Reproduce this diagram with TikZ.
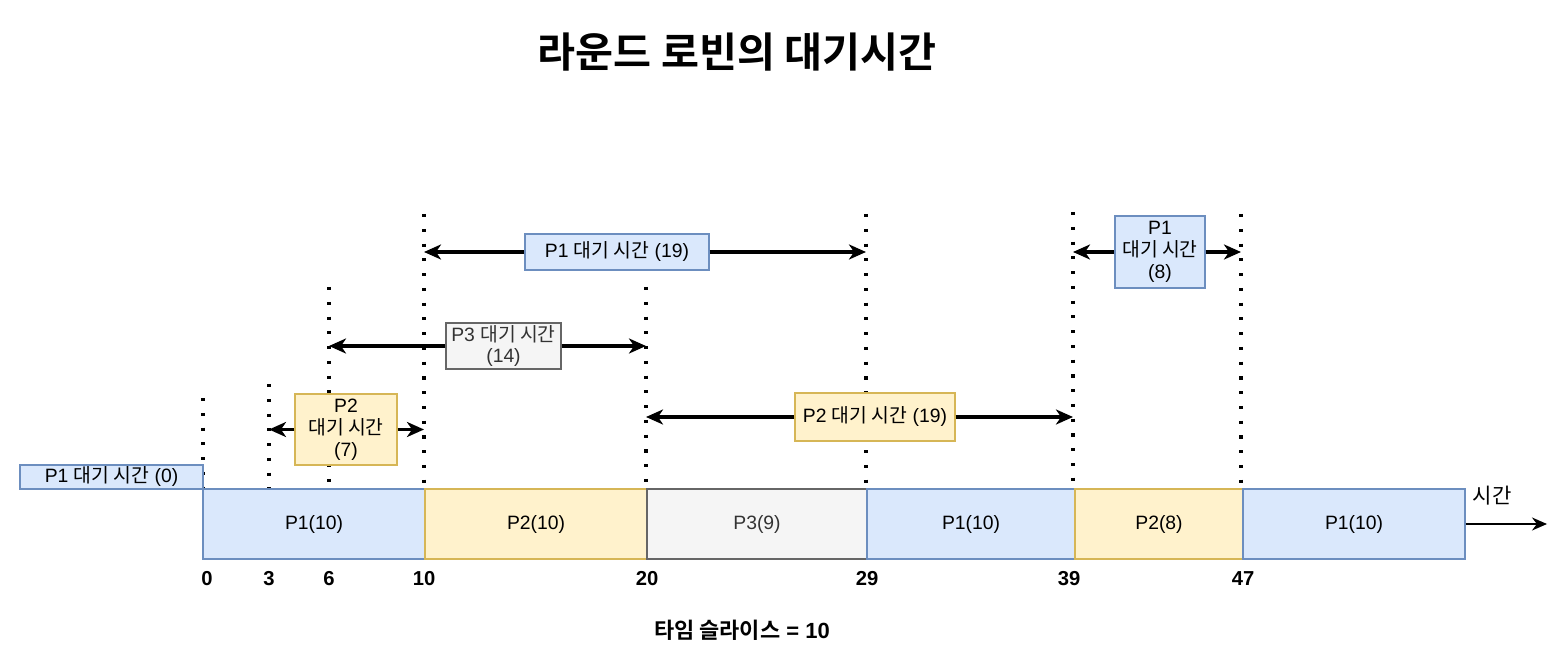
\documentclass[tikz,border=0pt]{standalone}
\usepackage{fontspec}
\setmainfont{Liberation Sans}
\newfontfamily\kr{Noto Sans CJK KR}[BoldFont={Noto Sans CJK KR Bold}]
\usetikzlibrary{arrows.meta,positioning}
\definecolor{blueFill}{HTML}{DAE8FC}
\definecolor{blueLine}{HTML}{6C8EBF}
\definecolor{yellowFill}{HTML}{FFF2CC}
\definecolor{yellowLine}{HTML}{D6B656}
\definecolor{grayFill}{HTML}{F5F5F5}
\definecolor{grayLine}{HTML}{666666}
\definecolor{grayText}{HTML}{333333}

\begin{document}
\begin{tikzpicture}[
  x=0.02cm,y=-0.02cm,
  box/.style={rectangle,inner sep=0pt,line width=0.8pt,align=center,font=\fontsize{11}{12.5}\selectfont},
  pone/.style={box,draw=blueLine,fill=blueFill},
  ptwo/.style={box,draw=yellowLine,fill=yellowFill},
  pthree/.style={box,draw=grayLine,fill=grayFill,text=grayText},
  seg/.style={minimum height=14mm},
  tick/.style={font=\fontsize{11.5}{13}\selectfont\bfseries},
  guide/.style={line width=1.8pt,dash pattern=on 1.8pt off 6.6pt},
  arrow/.style={-{Stealth[length=3.4mm,width=3mm,inset=1mm]},line width=1.9pt},
  timearrow/.style={-{Stealth[length=3mm,width=2.6mm]},line width=1.1pt}
]
\useasboundingbox (0,0) rectangle (1554,648);
\node[font=\kr\bfseries\fontsize{23.5}{28}\selectfont] (title) at (737,52) {라운드 로빈의 대기시간};

\coordinate (g0) at (203,398);
\coordinate (g3) at (269,384);
\coordinate (g6) at (329,287);
\coordinate (g10) at (424,214);
\coordinate (g20) at (646,287);
\coordinate (g29) at (866,214);
\coordinate (g39) at (1073,212);
\coordinate (g47) at (1241,214);
\foreach \g in {g0,g3,g6,g10,g20,g29,g39,g47}
  \draw[guide] (\g) -- (\g |- 0,489);

\node[pone,seg,minimum width=44.4mm] (s1) at (314,524) {P1(10)};
\node[ptwo,seg,minimum width=44.4mm] (s2) at (536,524) {P2(10)};
\node[pthree,seg,minimum width=44mm] (s3) at (757,524) {P3(9)};
\node[pone,seg,minimum width=41.6mm] (s4) at (971,524) {P1(10)};
\node[ptwo,seg,minimum width=33.6mm] (s5) at (1159,524) {P2(8)};
\node[pone,seg,minimum width=44.4mm] (s6) at (1354,524) {P1(10)};
\coordinate (tend) at (1547,524);
\draw[timearrow] (s6.east) -- (tend);
\node[font=\kr\fontsize{12}{14}\selectfont] (tlabel) at (1492,496) {시간};

\node[tick] (l0) at (207,579) {0};
\node[tick] (l3) at (269,579) {3};
\node[tick] (l6) at (329,579) {6};
\node[tick] (l10) at (424,579) {10};
\node[tick] (l20) at (647,579) {20};
\node[tick] (l29) at (867,579) {29};
\node[tick] (l39) at (1069,579) {39};
\node[tick] (l47) at (1243,579) {47};
\node[tick,font=\fontsize{12.5}{14}\selectfont\bfseries] (slice) at (742,630) {{\kr 타임 슬라이스} = 10};

\node[pone,minimum width=36.6mm,minimum height=4.8mm] (w0) at (111.5,477) {P1 {\kr 대기 시간} (0)};
\node[ptwo,minimum width=20.4mm,minimum height=14.2mm] (w7) at (346,429.5) {P2\\{\kr 대기 시간}\\(7)};
\node[pthree,minimum width=23mm,minimum height=9.2mm] (w14) at (503.5,346) {P3 {\kr 대기 시간}\\(14)};
\node[pone,minimum width=36.8mm,minimum height=7.2mm] (w19a) at (617,252) {P1 {\kr 대기 시간} (19)};
\node[ptwo,minimum width=32mm,minimum height=9.6mm] (w19b) at (875,417) {P2 {\kr 대기 시간} (19)};
\node[pone,minimum width=18mm,minimum height=14.4mm] (w8) at (1160,252) {P1\\{\kr 대기 시간}\\(8)};

\draw[arrow] (w7.west) -- (w7.west -| g3);
\draw[arrow] (w7.east) -- (w7.east -| g10);
\draw[arrow] (w14.west) -- (w14.west -| g6);
\draw[arrow] (w14.east) -- (w14.east -| g20);
\draw[arrow] (w19a.west) -- (w19a.west -| g10);
\draw[arrow] (w19a.east) -- (w19a.east -| g29);
\draw[arrow] (w19b.west) -- (w19b.west -| g20);
\draw[arrow] (w19b.east) -- (w19b.east -| g39);
\draw[arrow] (w8.west) -- (w8.west -| g39);
\draw[arrow] (w8.east) -- (w8.east -| g47);
\end{tikzpicture}
\end{document}
